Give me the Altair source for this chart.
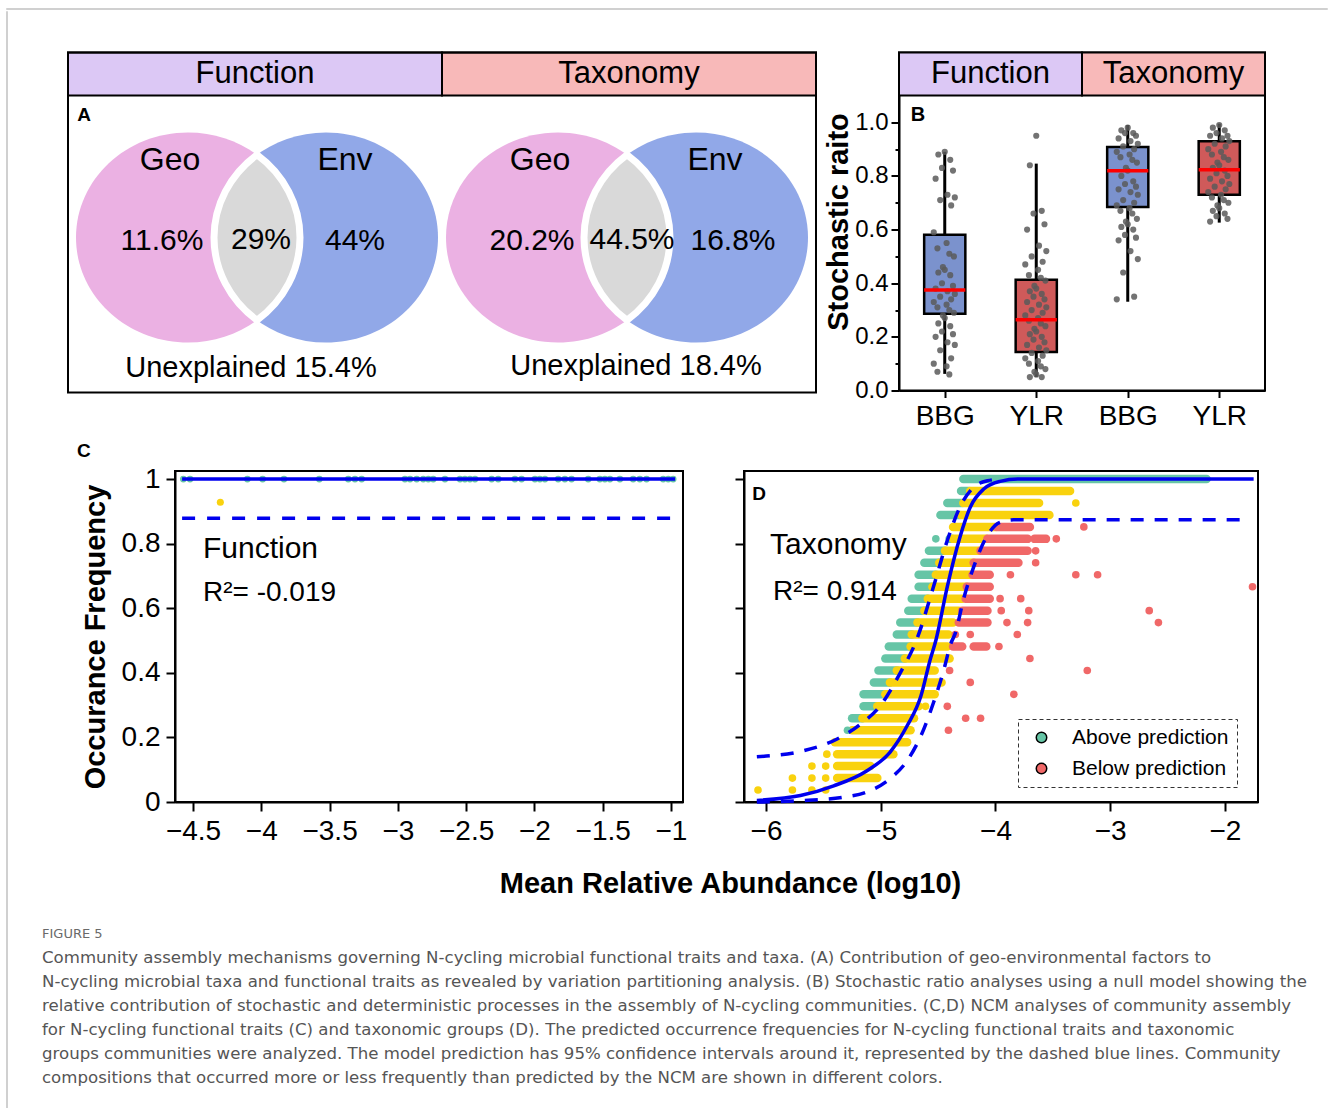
import json
import math
import altair as alt
import pandas as pd

FONT = "Liberation Sans"
CAP_FONT = "DejaVu Sans"

# ======================= DATA =======================
groups = ["Function", "Taxonomy"]
header_fill = ["#dcc8f5", "#f8b9b9"]

# Panel A: variation partitioning
venn_geo = ["11.6%", "20.2%"]
venn_shared = ["29%", "44.5%"]
venn_env = ["44%", "16.8%"]
venn_unexpl = ["Unexplained 15.4%", "Unexplained 18.4%"]
venn_fill = {"geo": "#ebb1e3", "env": "#91a8e8", "both": "#d9d9d9"}

# Panel B: stochastic ratio
b_cats = ["BBG", "YLR", "BBG", "YLR"]
b_fill = ["#7b92cd", "#cf5a5a", "#7b92cd", "#cf5a5a"]
b_low = [0.062, 0.05, 0.331, 0.626]
b_q1 = [0.286, 0.144, 0.684, 0.730]
b_med = [0.375, 0.264, 0.819, 0.823]
b_q3 = [0.581, 0.413, 0.908, 0.929]
b_high = [0.89, 0.846, 0.99, 0.995]
bbg_f = [0.89, 0.88, 0.86, 0.83, 0.82, 0.79, 0.73, 0.72, 0.71, 0.69, 0.59, 0.55, 0.53, 0.51, 0.50,
         0.46, 0.45, 0.44, 0.43, 0.40, 0.39, 0.38, 0.37, 0.36, 0.35, 0.34, 0.33, 0.32, 0.31, 0.30,
         0.29, 0.28, 0.27, 0.25, 0.24, 0.22, 0.21, 0.20, 0.18, 0.17, 0.15, 0.12, 0.10, 0.09, 0.07, 0.06]
ylr_f = [0.95, 0.84, 0.67, 0.66, 0.62, 0.60, 0.54, 0.52, 0.50, 0.48, 0.47, 0.45, 0.43, 0.42, 0.41,
         0.39, 0.38, 0.37, 0.36, 0.35, 0.34, 0.33, 0.32, 0.31, 0.30, 0.29, 0.28, 0.27, 0.26, 0.25,
         0.24, 0.23, 0.22, 0.21, 0.20, 0.19, 0.18, 0.17, 0.16, 0.15, 0.14, 0.13, 0.12, 0.11, 0.10,
         0.09, 0.08, 0.07, 0.06, 0.05, 0.05]
bbg_t = [0.98, 0.97, 0.96, 0.96, 0.95, 0.94, 0.93, 0.92, 0.91, 0.90, 0.89, 0.88, 0.87, 0.86, 0.85,
         0.83, 0.82, 0.80, 0.78, 0.77, 0.76, 0.75, 0.74, 0.73, 0.71, 0.70, 0.69, 0.68, 0.67, 0.66,
         0.64, 0.63, 0.62, 0.61, 0.60, 0.58, 0.57, 0.56, 0.52, 0.49, 0.44, 0.35, 0.34]
ylr_t = [0.99, 0.98, 0.97, 0.96, 0.95, 0.95, 0.94, 0.93, 0.92, 0.91, 0.90, 0.89, 0.88, 0.87, 0.86,
         0.85, 0.84, 0.83, 0.82, 0.81, 0.80, 0.79, 0.78, 0.77, 0.76, 0.75, 0.74, 0.73, 0.72, 0.71,
         0.70, 0.69, 0.68, 0.67, 0.66, 0.65, 0.64, 0.63]
b_points = [bbg_f, ylr_f, bbg_t, ylr_t]
b_jitter = [0.00, -0.07, 0.06, -0.03, 0.09, -0.10, 0.03, 0.11, -0.05, 0.07, -0.12, 0.02, -0.08,
            0.05, 0.10, -0.02]

# Panel C: NCM, functional traits
c_green_x = [-4.571, -4.522, -4.102, -3.990, -3.834, -3.575, -3.363, -3.314, -3.265, -2.948, -2.911,
             -2.862, -2.814, -2.777, -2.741, -2.655, -2.545, -2.509, -2.472, -2.435, -2.313, -2.265,
             -2.143, -2.094, -1.996, -1.960, -1.923, -1.826, -1.777, -1.728, -1.606, -1.521, -1.484,
             -1.447, -1.374, -1.277, -1.228, -1.179, -1.057, -1.020, -0.984]
c_green_y = [1.0] * len(c_green_x)
c_yellow_x = [-4.30]
c_yellow_y = [0.928]
c_fit_x = [-4.58, -0.97]
c_fit_y = [1.0, 1.0]
c_low_x = [-4.58, -0.98]
c_low_y = [0.879, 0.879]

# Panel D: NCM, taxa (27 samples -> occurrence levels k/27)
d_n = 27
d_seg_k = [27, 26, 26, 25, 25, 24, 24, 23, 23, 22, 22, 22, 22, 21, 21, 21, 20, 20, 20, 19, 19, 19,
           18, 18, 18, 17, 17, 17, 16, 16, 16, 15, 15, 15, 14, 14, 13, 13, 13, 13, 12, 12, 11, 11,
           10, 10, 9, 9, 8, 8, 7, 7, 6, 5, 4, 3, 2]
d_seg_x0 = [-4.28, -4.30, -4.22, -4.42, -4.28, -4.48, -4.30, -4.37, -3.99, -4.40, -4.37, -4.07, -3.66,
            -4.58, -4.44, -4.13, -4.62, -4.49, -4.19, -4.67, -4.52, -4.20, -4.67, -4.55, -4.25,
            -4.73, -4.59, -4.26, -4.76, -4.62, -4.29, -4.83, -4.68, -4.32, -4.86, -4.73, -4.93,
            -4.74, -4.37, -4.19, -4.96, -4.79, -5.02, -4.86, -5.06, -4.92, -5.15, -4.96, -5.15,
            -5.03, -5.25, -5.16, -5.25, -5.40, -5.38, -5.38, -5.38]
d_seg_x1 = [-2.16, -4.23, -3.35, -4.29, -3.62, -4.31, -3.53, -4.00, -3.70, -4.38, -4.08, -3.72, -3.56,
            -4.44, -4.14, -3.72, -4.49, -4.19, -3.80, -4.52, -4.22, -4.05, -4.55, -4.25, -4.05,
            -4.59, -4.29, -4.05, -4.62, -4.32, -4.07, -4.68, -4.37, -4.07, -4.73, -4.41, -4.74,
            -4.42, -4.29, -4.08, -4.79, -4.40, -4.86, -4.53, -4.92, -4.47, -4.96, -4.53, -5.03,
            -4.67, -5.16, -4.71, -4.74, -4.77, -4.89, -5.09, -5.03]
d_seg_status = ["A", "A", "W", "A", "W", "A", "W", "W", "B", "A", "W", "B", "B", "A", "W", "B", "A",
                "W", "B", "A", "W", "B", "A", "W", "B", "A", "W", "B", "A", "W", "B", "A", "W", "B",
                "A", "W", "A", "W", "B", "B", "A", "W", "A", "W", "A", "W", "A", "W", "A", "W", "A",
                "W", "W", "W", "W", "W", "W"]
d_pt_k = [25, 23, 22, 22, 21, 20, 19, 19, 19, 18, 17, 17, 16, 16, 16, 15, 15, 15, 14, 14, 14, 13, 12,
          11, 11, 10, 9, 8, 8, 7, 7, 6, 6, 4, 3, 3, 2, 2, 2, 1, 1, 1, 1]
d_pt_x = [-3.30, -3.23, -4.52, -3.47, -3.65, -3.65, -3.87, -3.30, -3.11, -1.76, -3.96, -3.78, -3.95,
          -3.71, -2.66, -3.90, -3.72, -2.58, -4.35, -4.22, -3.81, -3.97, -3.70, -4.40, -3.20, -4.22,
          -3.84, -4.61, -4.42, -4.26, -4.13, -5.29, -4.41, -5.47, -5.60, -5.48, -5.77, -5.60, -5.48,
          -6.07, -5.77, -5.60, -5.48]
d_pt_status = ["W", "B", "A", "B", "B", "B", "B", "B", "B", "B", "B", "B", "B", "B", "B", "B", "B",
               "B", "B", "B", "B", "B", "B", "B", "B", "B", "B", "W", "B", "B", "B", "A", "B", "W",
               "W", "W", "W", "W", "W", "W", "W", "W", "W"]
d_fit_x = [-6.08, -5.70, -5.41, -5.12, -4.92, -4.77, -4.65, -4.57, -4.52, -4.42, -4.31, -4.22, -4.10,
           -3.96, -3.80, -1.75]
d_fit_y = [0.005, 0.02, 0.05, 0.097, 0.154, 0.236, 0.328, 0.44, 0.50, 0.667, 0.82, 0.913, 0.97,
           0.993, 1.0, 1.0]
d_up_x = [-6.08, -5.67, -5.38, -5.18, -5.00, -4.83, -4.69, -4.54, -4.42, -4.31, -4.19, -4.07, -3.95]
d_up_y = [0.14, 0.159, 0.195, 0.24, 0.30, 0.40, 0.50, 0.667, 0.81, 0.913, 0.975, 0.995, 1.0]
d_lo_x = [-6.08, -5.70, -5.32, -5.12, -4.92, -4.77, -4.65, -4.54, -4.45, -4.39, -4.35, -4.28, -4.19,
          -4.07, -3.96, -3.84, -1.83]
d_lo_y = [0.0, 0.004, 0.015, 0.031, 0.072, 0.128, 0.205, 0.308, 0.41, 0.49, 0.523, 0.626, 0.728,
          0.826, 0.866, 0.874, 0.874]
status_names = {"A": "Above prediction", "B": "Below prediction", "W": "Within prediction"}
status_colors = {"A": "#66c5a6", "B": "#f06868", "W": "#f9d20e"}

caption_lines = [
    "Community assembly mechanisms governing N-cycling microbial functional traits and taxa. (A) Contribution of geo-environmental factors to",
    "N-cycling microbial taxa and functional traits as revealed by variation partitioning analysis. (B) Stochastic ratio analyses using a null model showing the",
    "relative contribution of stochastic and deterministic processes in the assembly of N-cycling communities. (C,D) NCM analyses of community assembly",
    "for N-cycling functional traits (C) and taxonomic groups (D). The predicted occurrence frequencies for N-cycling functional traits and taxonomic",
    "groups communities were analyzed. The model prediction has 95% confidence intervals around it, represented by the dashed blue lines. Community",
    "compositions that occurred more or less frequently than predicted by the NCM are shown in different colors.",
]

# ======================= HELPERS =======================
NOSTROKE = alt.ViewBackground(stroke="transparent")


def spacer(w, h, stroke=None):
    vb = NOSTROKE if stroke is None else alt.ViewBackground(stroke=stroke, strokeWidth=1)
    return alt.Chart(pd.DataFrame({"v": [0]})).mark_point(opacity=0, size=0, strokeWidth=0).encode(
        x=alt.value(0), y=alt.value(0)
    ).properties(width=w, height=h, view=vb)


# ======================= PANEL A (header + venns) =======================
LM = 26                    # blank margin left of the framed panel
FW, AH, HH = 748, 340, 43  # frame width, height, header height
AW = FW + LM
VCX = [189, 559]
VCY = 185
OFF, RX, RY = 69.0, 112.0, 105.0
S = 200.0


def ell(cx):
    a, b, r1, r2 = (cx - RX) / S, (cx + RX) / S, RX / S, RY / S
    return (f"M{a:.4f},0 A{r1:.4f},{r2:.4f} 0 1,0 {b:.4f},0 "
            f"A{r1:.4f},{r2:.4f} 0 1,0 {a:.4f},0 Z")


tt = RY * math.sqrt(1 - (OFF / RX) ** 2) / S
lens_path = (f"M0,{-tt:.4f} A{RX / S:.4f},{RY / S:.4f} 0 0,1 0,{tt:.4f} "
             f"A{RX / S:.4f},{RY / S:.4f} 0 0,1 0,{-tt:.4f} Z")

ax_x = alt.Scale(domain=[-LM, FW], nice=False, zero=False)
ax_y = alt.Scale(domain=[0, AH], nice=False, zero=False, reverse=True)


def XA(f):
    return alt.X(f, scale=ax_x, axis=None)


def YA(f):
    return alt.Y(f, scale=ax_y, axis=None)


hdrA_df = pd.DataFrame({"x0": [0, FW / 2], "x1": [FW / 2, FW], "y0": [0, 0], "y1": [HH, HH],
                        "fill": header_fill, "t": groups, "xc": [FW / 4, 3 * FW / 4], "yc": [HH / 2] * 2})
hdrA = alt.Chart(hdrA_df).mark_rect(stroke="black", strokeWidth=2).encode(
    x=XA("x0:Q"), x2="x1:Q", y=YA("y0:Q"), y2="y1:Q", color=alt.Color("fill:N", scale=None))
hdrA_t = alt.Chart(hdrA_df).mark_text(fontSize=31, font=FONT, color="black").encode(
    x=XA("xc:Q"), y=YA("yc:Q"), text="t:N")
frameA = alt.Chart(pd.DataFrame({"x0": [0], "x1": [FW], "y0": [0], "y1": [AH]})).mark_rect(
    fill="transparent", stroke="black", strokeWidth=2).encode(x=XA("x0:Q"), x2="x1:Q", y=YA("y0:Q"), y2="y1:Q")

shape_rows = []
for i in range(2):
    shape_rows.append({"x": VCX[i], "y": VCY, "shape": ell(-OFF), "fill": venn_fill["geo"], "o": 2 * i})
    shape_rows.append({"x": VCX[i], "y": VCY, "shape": ell(OFF), "fill": venn_fill["env"], "o": 2 * i + 1})
shape_df = pd.DataFrame(shape_rows)
lens_df = pd.DataFrame({"x": VCX, "y": [VCY, VCY]})

shared_dx = [4, 5]
env_dx = [98, 106]
unex_dx = [-6, 9]
unex_dy = [130, 128]
lab_rows = []
for i in range(2):
    lab_rows += [
        {"x": VCX[i] - 87, "y": VCY - 78, "t": "Geo", "fs": 32},
        {"x": VCX[i] + 88, "y": VCY - 78, "t": "Env", "fs": 32},
        {"x": VCX[i] - 95, "y": VCY + 3, "t": venn_geo[i], "fs": 30},
        {"x": VCX[i] + shared_dx[i], "y": VCY + 2, "t": venn_shared[i], "fs": 30},
        {"x": VCX[i] + env_dx[i], "y": VCY + 3, "t": venn_env[i], "fs": 30},
        {"x": VCX[i] + unex_dx[i], "y": VCY + unex_dy[i], "t": venn_unexpl[i], "fs": 29},
    ]
lab_df = pd.DataFrame(lab_rows)

venn_shapes = alt.Chart(shape_df).mark_point(filled=True, opacity=1, size=4 * S * S, strokeWidth=0).encode(
    x=XA("x:Q"), y=YA("y:Q"),
    shape=alt.Shape("shape:N", scale=None),
    color=alt.Color("fill:N", scale=None),
    order="o:Q",
)
venn_lens = alt.Chart(lens_df).mark_point(
    filled=True, opacity=1, size=4 * S * S, shape=lens_path, color=venn_fill["both"],
    stroke="white", strokeWidth=7
).encode(x=XA("x:Q"), y=YA("y:Q"))
venn_text = alt.Chart(lab_df).mark_text(font=FONT, color="black").encode(
    x=XA("x:Q"), y=YA("y:Q"), text="t:N", size=alt.Size("fs:Q", scale=None))
a_letter = alt.Chart(pd.DataFrame({"x": [16], "y": [62], "t": ["A"]})).mark_text(
    font=FONT, fontSize=19, fontWeight="bold", color="black"
).encode(x=XA("x:Q"), y=YA("y:Q"), text="t:N")

panel_a = (hdrA + hdrA_t + venn_shapes + venn_lens + venn_text + a_letter + frameA).properties(
    width=AW, height=AH, view=NOSTROKE)

# ======================= PANEL B (header + boxplots) =======================
BW, BH = 366, 338
B_TOP = 1.1
B_HDR = B_TOP * BH / 295.0
HALF = 0.225
bx = alt.Scale(domain=[-0.5, 3.5], nice=False, zero=False)
by = alt.Scale(domain=[0, B_HDR], nice=False, zero=False)
box_df = pd.DataFrame({
    "pos": list(range(4)), "low": b_low, "q1": b_q1, "med": b_med, "q3": b_q3, "high": b_high,
    "fill": b_fill,
})
box_df["xl"] = box_df["pos"] - HALF
box_df["xr"] = box_df["pos"] + HALF
pt_rows = []
for g, vals in enumerate(b_points):
    for j, v in enumerate(vals):
        pt_rows.append({"pos": g, "v": v, "jit": b_jitter[j % len(b_jitter)]})
pt_df = pd.DataFrame(pt_rows)

b_yticks = [round(i * 0.1, 1) for i in range(11)]
b_xaxis = alt.Axis(values=[0, 1, 2, 3], labelExpr=f"{json.dumps(b_cats)}[datum.value]", title=None,
                   labelFontSize=28, tickSize=7, labelPadding=5, grid=False)
b_yaxis = alt.Axis(values=b_yticks,
                   labelExpr="round(datum.value*10)%2==0 ? format(datum.value, '.1f') : ''",
                   tickSize=alt.condition("round(datum.value*10)%2==0", alt.value(8), alt.value(4)),
                   title="Stochastic raito", titleFontSize=29, titleFontWeight="bold",
                   titleX=-61, titleBaseline="middle",
                   labelFontSize=24, labelPadding=3, grid=False)


def XB(f):
    return alt.X(f, scale=bx, axis=b_xaxis)


def YB(f):
    return alt.Y(f, scale=by, axis=b_yaxis)


hdrB_df = pd.DataFrame({"x0": [-0.5, 1.5], "x1": [1.5, 3.5], "y0": [B_TOP] * 2, "y1": [B_HDR] * 2,
                        "fill": header_fill, "t": groups, "xc": [0.5, 2.5], "yc": [(B_TOP + B_HDR) / 2] * 2})
hdrB = alt.Chart(hdrB_df).mark_rect(stroke="black", strokeWidth=2).encode(
    x=XB("x0:Q"), x2="x1:Q", y=YB("y0:Q"), y2="y1:Q", color=alt.Color("fill:N", scale=None))
hdrB_t = alt.Chart(hdrB_df).mark_text(fontSize=31, font=FONT, color="black").encode(
    x=XB("xc:Q"), y=YB("yc:Q"), text="t:N")
whisk = alt.Chart(box_df).mark_rule(color="black", strokeWidth=3).encode(
    x=XB("pos:Q"), y=YB("low:Q"), y2="high:Q")
boxes = alt.Chart(box_df).mark_rect(stroke="black", strokeWidth=2.5).encode(
    x=XB("xl:Q"), x2="xr:Q", y=YB("q1:Q"), y2="q3:Q", color=alt.Color("fill:N", scale=None))
bpts = alt.Chart(pt_df).transform_calculate(xj="datum.pos + datum.jit").mark_circle(
    size=38, color="#5a5a5a", opacity=0.85
).encode(x=XB("xj:Q"), y=YB("v:Q"))
meds = alt.Chart(box_df).mark_rule(color="#ff0000", strokeWidth=3.5).encode(
    x=XB("xl:Q"), x2="xr:Q", y=YB("med:Q"))
b_letter = alt.Chart(pd.DataFrame({"x": [-0.293], "y": [1.029], "t": ["B"]})).mark_text(
    font=FONT, fontSize=20, fontWeight="bold", color="black"
).encode(x=XB("x:Q"), y=YB("y:Q"), text="t:N")
panel_b = (whisk + hdrB + hdrB_t + boxes + bpts + meds + b_letter).properties(width=BW, height=BH)

# ======================= PANEL C =======================
CW, CH = 508, 331
cy_scale = alt.Scale(domain=[0, 1.025], nice=False, zero=False)
cx_scale = alt.Scale(domain=[-4.632, -0.912], nice=False, zero=False)
freq_ticks = [0, 0.2, 0.4, 0.6, 0.8, 1.0]
c_xaxis = alt.Axis(values=[-4.5, -4, -3.5, -3, -2.5, -2, -1.5, -1], format="~g",
                   title="Mean Relative Abundance (log10)", titleFontSize=29, titleFontWeight="bold",
                   titleX=555, titleY=81, titleBaseline="middle", titleAlign="center",
                   labelFontSize=28, tickSize=9, labelPadding=6, grid=False)
c_yaxis = alt.Axis(values=freq_ticks, format="~g", title="Occurance Frequency", titleFontSize=29,
                   titleFontWeight="bold", titleX=-80, titleBaseline="middle",
                   labelFontSize=28, tickSize=9, labelPadding=6, grid=False)


def XC(f):
    return alt.X(f, scale=cx_scale, axis=c_xaxis)


def YC(f):
    return alt.Y(f, scale=cy_scale, axis=c_yaxis)


c_green = alt.Chart(pd.DataFrame({"x": c_green_x, "y": c_green_y})).mark_circle(
    size=45, color=status_colors["A"], opacity=1
).encode(x=XC("x:Q"), y=YC("y:Q"))
c_yel = alt.Chart(pd.DataFrame({"x": c_yellow_x, "y": c_yellow_y})).mark_circle(
    size=50, color=status_colors["W"], opacity=1
).encode(x=XC("x:Q"), y=YC("y:Q"))
c_fit = alt.Chart(pd.DataFrame({"x": c_fit_x, "y": c_fit_y})).mark_line(
    color="#0000ee", strokeWidth=3.5).encode(x=XC("x:Q"), y=YC("y:Q"))
c_low = alt.Chart(pd.DataFrame({"x": c_low_x, "y": c_low_y})).mark_line(
    color="#0000ee", strokeWidth=3.5, strokeDash=[13, 12]).encode(x=XC("x:Q"), y=YC("y:Q"))
c_txt = alt.Chart(pd.DataFrame({
    "x": [-4.427, -4.427], "y": [0.783, 0.647],
    "t": ["Function", "R²= -0.019"], "fs": [30, 28],
})).mark_text(font=FONT, color="black", align="left").encode(
    x=XC("x:Q"), y=YC("y:Q"), text="t:N", size=alt.Size("fs:Q", scale=None))
c_letter = alt.Chart(pd.DataFrame({"x": [-5.30], "y": [1.087], "t": ["C"]})).mark_text(
    font=FONT, fontSize=19, fontWeight="bold", color="black"
).encode(x=XC("x:Q"), y=YC("y:Q"), text="t:N")
panel_c = (c_green + c_yel + c_fit + c_low + c_txt + c_letter).properties(width=CW, height=CH)

# ======================= PANEL D =======================
DW, DH = 514, 331
dx_scale = alt.Scale(domain=[-6.192, -1.712], nice=False, zero=False)
d_xaxis = alt.Axis(values=[-6, -5, -4, -3, -2], format="~g", title=None, labelFontSize=28,
                   tickSize=9, labelPadding=6, grid=False)
d_yaxis = alt.Axis(values=freq_ticks, labels=False, title=None, tickSize=9, grid=False)


def XD(f):
    return alt.X(f, scale=dx_scale, axis=d_xaxis)


def YD(f):
    return alt.Y(f, scale=cy_scale, axis=d_yaxis)


seg_df = pd.DataFrame({"k": d_seg_k, "x0": d_seg_x0, "x1": d_seg_x1, "s": d_seg_status})
seg_df["y"] = seg_df["k"] / d_n
seg_df["hex"] = seg_df["s"].map(status_colors)
dpt_df = pd.DataFrame({"k": d_pt_k, "x": d_pt_x, "s": d_pt_status})
dpt_df["y"] = dpt_df["k"] / d_n
dpt_df["status"] = dpt_df["s"].map(status_names)

status_order = ["Above prediction", "Below prediction", "Within prediction"]
d_segs = alt.Chart(seg_df).mark_rule(strokeWidth=8.5, strokeCap="round").encode(
    x=XD("x0:Q"), x2="x1:Q", y=YD("y:Q"), color=alt.Color("hex:N", scale=None))
d_pts = alt.Chart(dpt_df).mark_circle(size=58, opacity=1).encode(
    x=XD("x:Q"), y=YD("y:Q"),
    color=alt.Color("status:N", scale=alt.Scale(domain=status_order,
                                                range=[status_colors["A"], status_colors["B"], status_colors["W"]]),
                    legend=alt.Legend(values=status_order[:2], orient="none", legendX=1012, legendY=711,
                                      title=None, symbolType="circle", symbolSize=110, labelFontSize=21,
                                      labelFont=FONT, padding=8, rowPadding=9, symbolOffset=5,
                                      labelOffset=20)),
)
d_fit = alt.Chart(pd.DataFrame({"x": d_fit_x, "y": d_fit_y})).mark_line(
    color="#0000ee", strokeWidth=3.5, interpolate="monotone").encode(x=XD("x:Q"), y=YD("y:Q"))
d_up = alt.Chart(pd.DataFrame({"x": d_up_x, "y": d_up_y})).mark_line(
    color="#0000ee", strokeWidth=3.5, strokeDash=[13, 11], interpolate="monotone").encode(x=XD("x:Q"), y=YD("y:Q"))
d_lo = alt.Chart(pd.DataFrame({"x": d_lo_x, "y": d_lo_y})).mark_line(
    color="#0000ee", strokeWidth=3.5, strokeDash=[13, 11], interpolate="monotone").encode(x=XD("x:Q"), y=YD("y:Q"))
d_txt = alt.Chart(pd.DataFrame({
    "x": [-5.965, -5.939], "y": [0.796, 0.650], "t": ["Taxonomy", "R²= 0.914"], "fs": [30, 28],
})).mark_text(font=FONT, color="black", align="left").encode(
    x=XD("x:Q"), y=YD("y:Q"), text="t:N", size=alt.Size("fs:Q", scale=None))
d_letter = alt.Chart(pd.DataFrame({"x": [-6.061], "y": [0.954], "t": ["D"]})).mark_text(
    font=FONT, fontSize=19, fontWeight="bold", color="black"
).encode(x=XD("x:Q"), y=YD("y:Q"), text="t:N")
panel_d = (d_segs + d_pts + d_fit + d_up + d_lo + d_txt + d_letter).properties(width=DW, height=DH)

# ======================= CAPTION =======================
CAPW, CAPH = 1280, 198
cap_df = pd.DataFrame({"x0": [0] * (len(caption_lines) + 1),
                       "i": list(range(len(caption_lines) + 1)),
                       "t": ["FIGURE 5"] + caption_lines,
                       "fs": [13] + [16.6] * len(caption_lines),
                       "c": ["#6a6a6a"] + ["#555555"] * len(caption_lines)})
caption = alt.Chart(cap_df).mark_text(font=CAP_FONT, align="left", baseline="middle").encode(
    x=alt.X("x0:Q", scale=alt.Scale(domain=[0, CAPW], nice=False, zero=False), axis=None),
    y=alt.Y("i:Q", scale=alt.Scale(domain=[-1.0833, 7.1667], reverse=True, nice=False, zero=False), axis=None),
    text="t:N", size=alt.Size("fs:Q", scale=None), color=alt.Color("c:N", scale=None),
).properties(width=CAPW, height=CAPH, view=NOSTROKE)

# ======================= LAYOUT =======================
row1 = alt.hconcat(panel_a, panel_b, spacing=83, bounds="flush")
row2 = alt.hconcat(spacer(72, 1), panel_c, panel_d, spacing=61, bounds="flush")
content = alt.vconcat(spacer(10, 30), row1, row2, caption, spacing=8.5, bounds="full")
chart = alt.vconcat(
    spacer(1321, 1, stroke="#d0d0d0"),
    alt.hconcat(spacer(1, 1097, stroke="#d0d0d0"), content, spacing=33, bounds="full"),
    spacing=0, bounds="full",
).properties(
    padding={"left": 5, "top": 7, "right": 0, "bottom": 0}, background="white"
).configure_view(
    stroke="black", strokeWidth=2
).configure_axis(
    domainColor="black", domainWidth=2, tickColor="black", tickWidth=2, labelColor="black",
    titleColor="black", labelFont=FONT, titleFont=FONT, grid=False
).configure_legend(
    strokeColor="#333333", strokeDash=[4, 3], strokeWidth=1, labelColor="black"
).configure_text(font=FONT)

chart.save("out.html", embed_options={"renderer": "svg", "actions": False})
